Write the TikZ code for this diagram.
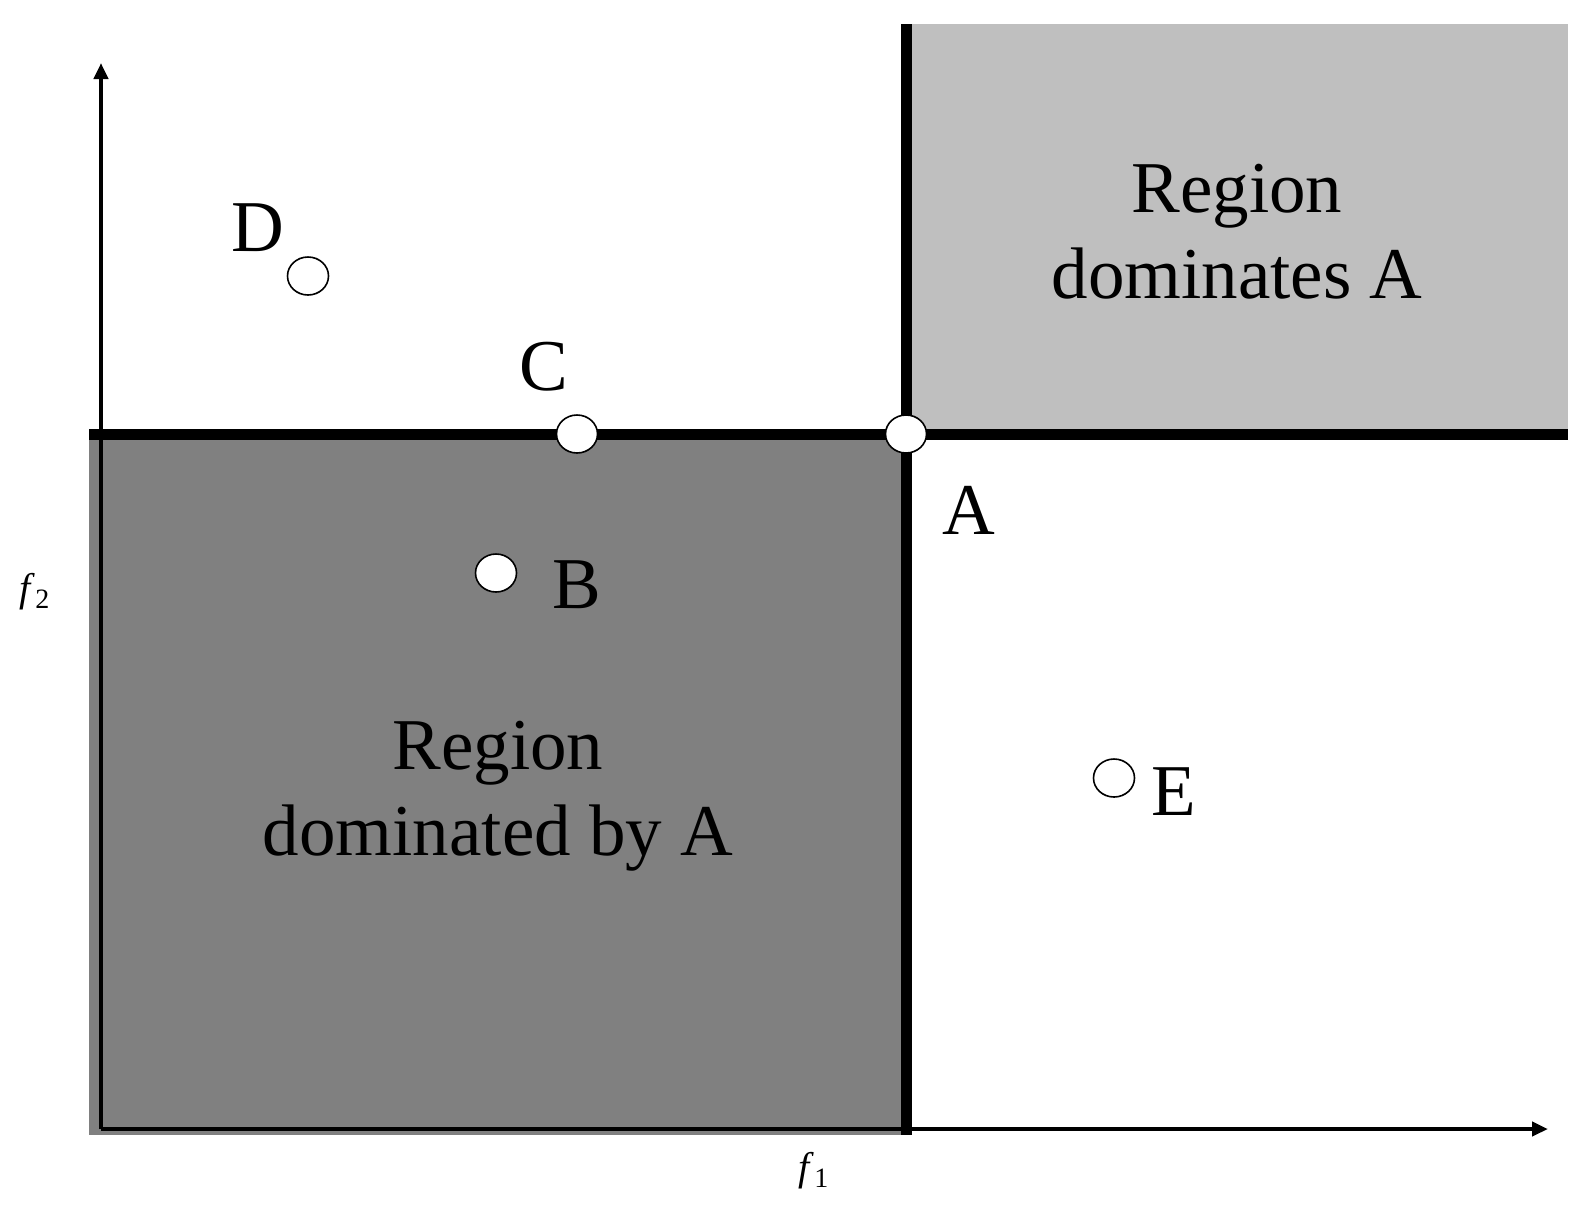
\documentclass[tikz,border=0pt]{standalone}
\usepackage{fontspec}
\setmainfont{Liberation Serif}
\usetikzlibrary{arrows.meta,positioning,shapes.geometric}
\definecolor{domDark}{RGB}{128,128,128}
\definecolor{domLight}{RGB}{191,191,191}
\tikzset{
  solpt/.style={ellipse, draw=black, fill=white, line width=0.8pt,
    minimum width=20.5pt, minimum height=19pt, inner sep=0pt},
  ptlbl/.style={font=\fontsize{36.5}{43}\selectfont, inner sep=0pt},
  regiontxt/.style={ptlbl, align=center},
  axislbl/.style={font=\fontsize{20}{24}\selectfont, inner sep=0pt},
  bound/.style={line width=5.5pt},
  axisline/.style={line width=2pt, -{Triangle[length=8pt,width=7pt]}}
}

\begin{document}
\begin{tikzpicture}[x=0.5pt,y=-0.5pt]
  \useasboundingbox (0,0) rectangle (1595,1206);
  \fill[domDark] (89,434) rectangle (906,1135);
  \fill[domLight] (906,24) rectangle (1568,434);

  \coordinate (orig) at (101,1129);
  \coordinate (xend) at (1548,1129);
  \coordinate (yend) at (101,63);
  \draw[axisline] (orig) -- (xend);
  \draw[axisline] (orig) -- (yend);

  \coordinate (hl) at (89,434);
  \coordinate (hr) at (1568,434);
  \coordinate (vt) at (906,24);
  \coordinate (vb) at (906,1135);
  \draw[bound] (hl) -- (hr);
  \draw[bound] (vt) -- (vb);

  \node[solpt] (ptA) at (906,434) {};
  \node[solpt] (ptB) at (496,573) {};
  \node[solpt] (ptC) at (577,434) {};
  \node[solpt] (ptD) at (308,276) {};
  \node[solpt] (ptE) at (1114,778) {};

  \node[ptlbl] (lblA) at (969,510) {A};
  \node[ptlbl] (lblB) at (577,585) {B};
  \node[ptlbl] (lblC) at (544,367) {C};
  \node[ptlbl] (lblD) at (258,228) {D};
  \node[ptlbl] (lblE) at (1174,792) {E};

  \node[regiontxt] (dominates) at (1237,232) {Region\\dominates A};
  \node[regiontxt] (dominated) at (498,796) {Region\\dominated by A};

  \node[axislbl] (fone) at (814,1171) {\textit{f}\textsubscript{1}};
  \node[axislbl] (ftwo) at (35,592) {\textit{f}\textsubscript{2}};
\end{tikzpicture}
\end{document}
